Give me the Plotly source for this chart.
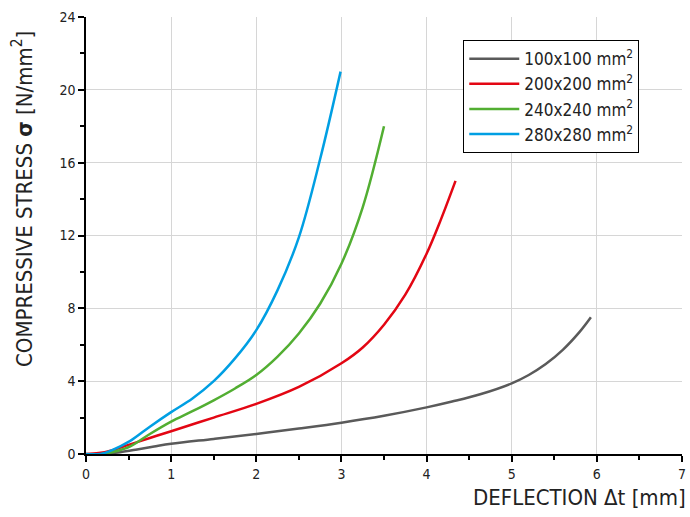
import plotly.graph_objects as go

# 100x100 mm2
x_100 = [0.22, 0.4, 0.6, 0.8, 1.0, 1.5, 2.0, 2.5, 3.0, 3.5, 4.0, 4.3, 4.63, 5.0, 5.2, 5.4, 5.6, 5.8, 5.93]
y_100 = [0.0, 0.1, 0.25, 0.41, 0.56, 0.83, 1.1, 1.4, 1.72, 2.1, 2.56, 2.88, 3.28, 3.88, 4.34, 4.94, 5.72, 6.72, 7.51]

# 200x200 mm2
x_200 = [0.0, 0.15, 0.3, 0.5, 0.75, 1.0, 1.5, 2.0, 2.5, 3.0, 3.25, 3.5, 3.75, 4.0, 4.17, 4.34]
y_200 = [0.0, 0.05, 0.2, 0.5, 0.88, 1.25, 2.0, 2.75, 3.68, 4.98, 5.85, 7.1, 8.75, 11.0, 12.9, 15.0]

# 240x240 mm2
x_240 = [0.2, 0.35, 0.52, 0.75, 1.0, 1.25, 1.5, 1.75, 2.0, 2.25, 2.5, 2.75, 3.0, 3.25, 3.5]
y_240 = [0.0, 0.15, 0.42, 1.1, 1.78, 2.35, 2.95, 3.6, 4.34, 5.35, 6.62, 8.25, 10.45, 13.55, 18.0]

# 280x280 mm2
x_280 = [0.0, 0.17, 0.3, 0.52, 0.75, 1.0, 1.25, 1.5, 1.75, 2.0, 2.25, 2.5, 2.75, 2.99]
y_280 = [0.0, 0.0, 0.2, 0.72, 1.5, 2.3, 3.05, 4.0, 5.25, 6.8, 9.0, 11.9, 16.2, 21.0]

names = ["100x100 mm<sup>2</sup>", "200x200 mm<sup>2</sup>", "240x240 mm<sup>2</sup>", "280x280 mm<sup>2</sup>"]
colors = ["#5a5a5a", "#e30613", "#52ae32", "#009fe3"]
series = [(x_100, y_100), (x_200, y_200), (x_240, y_240), (x_280, y_280)]

x_ticks = [0, 1, 2, 3, 4, 5, 6, 7]
y_ticks = [0, 4, 8, 12, 16, 20, 24]

FONT = "DejaVu Sans Condensed, Liberation Sans Narrow, sans-serif"

fig = go.Figure()
for (xs, ys), n, c in zip(series, names, colors):
    fig.add_trace(go.Scatter(x=xs, y=ys, name=n, mode="lines",
                             line=dict(color=c, width=2.5, shape="spline", smoothing=1.0)))

axis_common = dict(showline=True, linecolor="black", linewidth=1.5, ticks="outside",
                   ticklen=6, tickwidth=1.5, tickcolor="black", showgrid=True,
                   gridcolor="#d6d6d6", gridwidth=1, zeroline=False, automargin=False,
                   tickfont=dict(family=FONT, size=14, color="#222"),
                   minor=dict(ticks="outside", ticklen=4, tickwidth=1.5, tickcolor="black", showgrid=False))

fig.update_xaxes(range=[0, 7], tickvals=x_ticks, **axis_common)
fig.update_xaxes(minor_dtick=0.5)
fig.update_yaxes(range=[0, 24], tickvals=y_ticks, **axis_common)
fig.update_yaxes(minor_dtick=2)

fig.update_layout(
    width=690, height=517,
    margin=dict(l=86, r=8, t=17, b=63),
    plot_bgcolor="white", paper_bgcolor="white",
    font=dict(family=FONT, color="#222"),
    legend=dict(x=0.633, y=0.947, xanchor="left", yanchor="top",
                bordercolor="black", borderwidth=1, bgcolor="white",
                font=dict(family=FONT, size=17, color="#222"),
                itemwidth=50, tracegroupgap=0),
    annotations=[
        dict(text="DEFLECTION Δt [mm]", xref="paper", yref="paper", x=1.01, y=-0.066,
             xanchor="right", yanchor="top", showarrow=False,
             font=dict(family=FONT, size=22, color="#222")),
        dict(text="COMPRESSIVE STRESS <b>σ</b> [N/mm<sup>2</sup>]", xref="paper", yref="paper",
             x=-0.107, y=0.584, xanchor="center", yanchor="middle", textangle=-90,
             showarrow=False, font=dict(family=FONT, size=22, color="#222")),
    ],
)

fig.write_html("out.html", post_script="document.body.style.margin='0';",
               config={"displayModeBar": False})
